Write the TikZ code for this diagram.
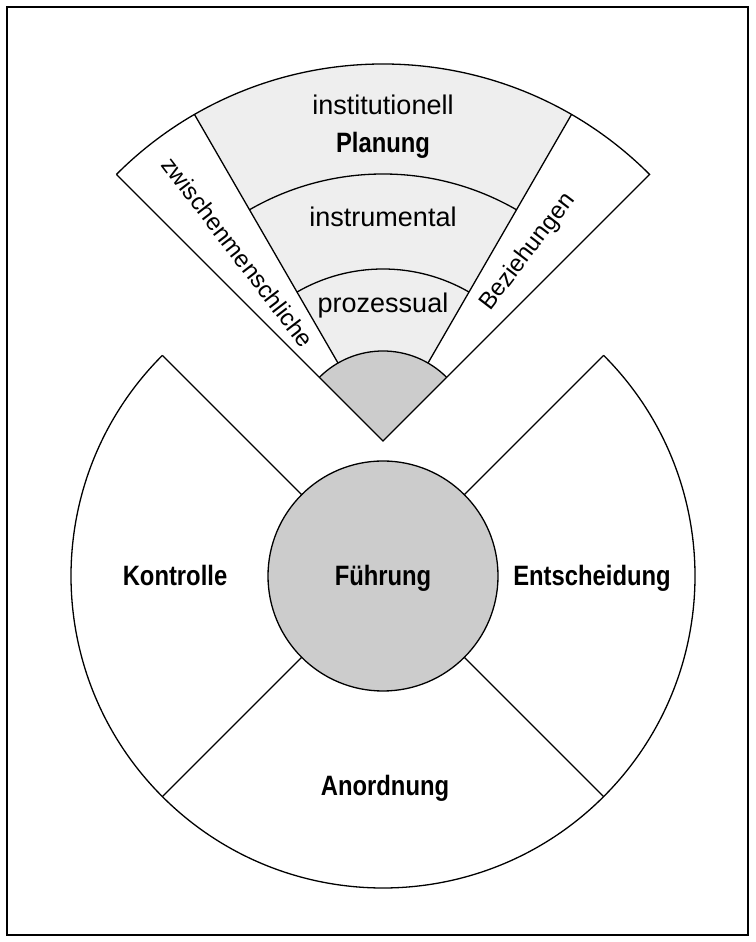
\documentclass[tikz,border=0pt]{standalone}
\usepackage{fontspec}
\setmainfont{Liberation Sans}
\newfontfamily\headfont[FakeStretch=0.85]{Liberation Sans}
\usetikzlibrary{calc}
\definecolor{shadelight}{HTML}{EEEEEE}
\definecolor{shadedark}{HTML}{CCCCCC}
\tikzset{
  rim/.style={draw=black, line width=1.3pt},
  plain/.style={font=\fontsize{27}{32}\selectfont, inner sep=0pt, anchor=base},
  heavy/.style={font=\headfont\bfseries\fontsize{28}{33}\selectfont, inner sep=0pt, anchor=base},
  slanted/.style={font=\fontsize{24}{28}\selectfont, inner sep=0pt}
}
\begin{document}
\begin{tikzpicture}[x=1pt,y=1pt]
  \useasboundingbox (0,0) rectangle (755,942);
  \draw[line width=1.8pt] (7,7) rectangle (748,935);

  % fan above the hub
  \coordinate (A) at (383,501);
  \fill[white] (A) -- ++(45:377) arc[start angle=45,end angle=135,radius=377] -- cycle;
  \fill[shadelight] (A) -- ++(60:377) arc[start angle=60,end angle=120,radius=377] -- cycle;
  \fill[shadedark] (A) -- ++(45:90) arc[start angle=45,end angle=135,radius=90] -- cycle;
  \draw[rim, line join=miter] ($(A)+(135:377)$) -- (A) -- ($(A)+(45:377)$)
       arc[start angle=45,end angle=135,radius=377];
  \draw[rim] ($(A)+(45:90)$) arc[start angle=45,end angle=135,radius=90];
  \draw[rim] ($(A)+(60:90)$) -- ($(A)+(60:377)$);
  \draw[rim] ($(A)+(120:90)$) -- ($(A)+(120:377)$);
  \draw[rim] ($(A)+(60:172)$) arc[start angle=60,end angle=120,radius=172];
  \draw[rim] ($(A)+(60:267)$) arc[start angle=60,end angle=120,radius=267];

  % hub with three outer sectors
  \coordinate (C) at (383,366);
  \draw[rim] ($(C)+(135:312)$) arc[start angle=135,end angle=405,radius=312];
  \foreach \a in {45,135,225,315}
    \draw[rim] ($(C)+(\a:115)$) -- ($(C)+(\a:312)$);
  \draw[rim, fill=shadedark] (C) circle[radius=115];

  % labels
  \node[plain] (inst) at (383,827) {institutionell};
  \node[heavy] (plan) at (383,789) {Planung};
  \node[plain] (instr) at (383,715) {instrumental};
  \node[plain] (proz) at (383,629) {prozessual};
  \node[slanted, rotate=-52.5] (zwm) at ($(A)+(127.5:238)$) {zwischenmenschliche};
  \node[slanted, rotate=52.5] (bez) at ($(A)+(52.5:238)$) {Beziehungen};
  \node[heavy] (fue) at (383,356) {Führung};
  \node[heavy] (kon) at (175,356) {Kontrolle};
  \node[heavy] (ent) at (592,356) {Entscheidung};
  \node[heavy] (ano) at (385,146) {Anordnung};
\end{tikzpicture}
\end{document}
